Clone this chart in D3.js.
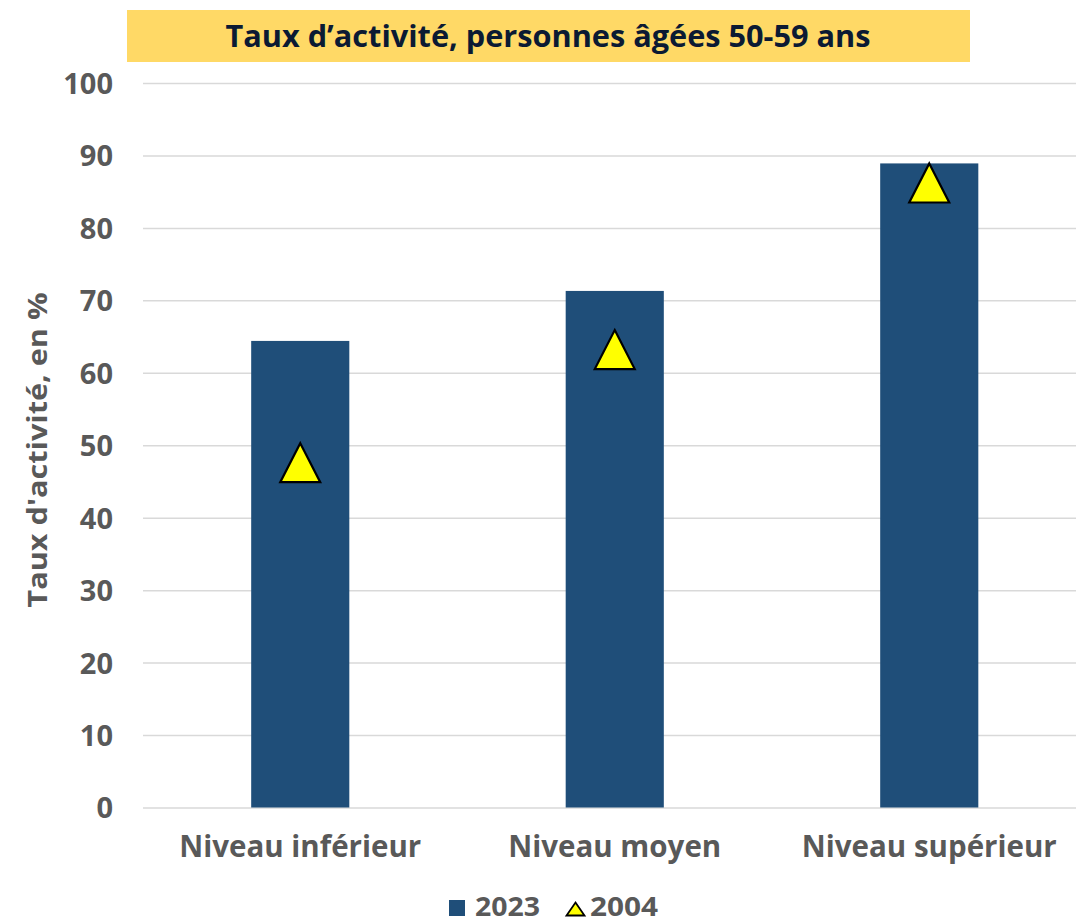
<!DOCTYPE html>
<html><head><meta charset="utf-8">
<script src="https://cdn.jsdelivr.net/npm/d3@7/dist/d3.min.js"></script>
<style>
body{margin:0;background:#fff;}
text{font-family:"Open Sans","Noto Sans",sans-serif;font-weight:700;}
</style></head>
<body>
<svg id="c" width="1076" height="924"></svg>
<script>
const categories = ["Niveau inférieur","Niveau moyen","Niveau supérieur"];
const values2023 = [64.4, 71.3, 88.9];
const values2004 = [47.6, 63.2, 86.2];
const yTicks = [0,10,20,30,40,50,60,70,80,90,100];
const seriesNames = ["2023","2004"];
const title = "Taux d’activité, personnes âgées 50-59 ans";
const yTitle = "Taux d'activité, en %";

const svg = d3.select("#c");
const x = d3.scaleBand().domain(categories).range([143, 1086.5]).paddingInner(0.688).paddingOuter(0.344);
const y = d3.scaleLinear().domain([0,100]).range([807.5, 83]);

// custom triangle symbol: width w, height h, centred on bbox
const triType = (w,h) => ({draw(ctx){ctx.moveTo(0,-h/2);ctx.lineTo(w/2,h/2);ctx.lineTo(-w/2,h/2);ctx.closePath();}});

// title box
svg.append("rect").attr("x",127).attr("y",10).attr("width",843).attr("height",52).attr("fill","#ffd966");
svg.append("text").attr("x",548).attr("y",47).attr("text-anchor","middle")
  .attr("font-size",31).attr("fill","#0b1a33").attr("textLength",645).attr("lengthAdjust","spacingAndGlyphs").text(title);

// grid
svg.append("g").selectAll("line").data(yTicks).join("line")
  .attr("x1",143).attr("x2",1076).attr("y1",d=>y(d)+0.5).attr("y2",d=>y(d)+0.5)
  .attr("stroke","#d9d9d9").attr("stroke-width",1.5);

// y axis labels
const ya = svg.append("g").attr("transform","translate(113,0)").call(d3.axisLeft(y).tickValues(yTicks).tickSize(0).tickPadding(0));
ya.select(".domain").remove();
ya.selectAll("text").attr("font-size",29).attr("fill","#595959").attr("dy","0.36em").style("font-family",'"Open Sans",sans-serif').style("font-weight",700);

// y title
svg.append("text").attr("transform","translate(47,450) rotate(-90)").attr("text-anchor","middle")
  .attr("font-size",26).attr("fill","#595959").attr("textLength",315).attr("lengthAdjust","spacingAndGlyphs").text(yTitle);

// bars
svg.append("g").selectAll("rect").data(categories).join("rect")
  .attr("x",d=>x(d)).attr("width",x.bandwidth())
  .attr("y",(d,i)=>y(values2023[i])).attr("height",(d,i)=>y(0)-y(values2023[i]))
  .attr("fill","#1f4e79");

// triangles
const tri = d3.symbol().type(triType(40,39));
svg.append("g").selectAll("path").data(categories).join("path")
  .attr("d",tri)
  .attr("transform",(d,i)=>`translate(${x(d)+x.bandwidth()/2},${y(values2004[i])})`)
  .attr("fill","#ffff00").attr("stroke","#000").attr("stroke-width",2.2).attr("stroke-linejoin","miter");

// x axis labels
const xa = svg.append("g").attr("transform","translate(0,857)").call(d3.axisBottom(x).tickSize(0).tickPadding(0));
xa.select(".domain").remove();
xa.selectAll("text").attr("font-size",29.5).attr("fill","#595959").attr("dy","0").style("font-family",'"Open Sans",sans-serif').style("font-weight",700);

// legend
const lg = svg.append("g");
lg.append("rect").attr("x",449).attr("y",900).attr("width",16).attr("height",16).attr("fill","#1f4e79");
lg.append("text").attr("x",475).attr("y",916).attr("font-size",26).attr("fill","#595959").attr("textLength",65).attr("lengthAdjust","spacingAndGlyphs").text(seriesNames[0]);
lg.append("path").attr("d",d3.symbol().type(triType(18,13)))
  .attr("transform","translate(575.5,909)").attr("fill","#ffff00").attr("stroke","#000").attr("stroke-width",1.8);
lg.append("text").attr("x",590).attr("y",916).attr("font-size",26).attr("fill","#595959").attr("textLength",68).attr("lengthAdjust","spacingAndGlyphs").text(seriesNames[1]);
</script>
</body></html>
